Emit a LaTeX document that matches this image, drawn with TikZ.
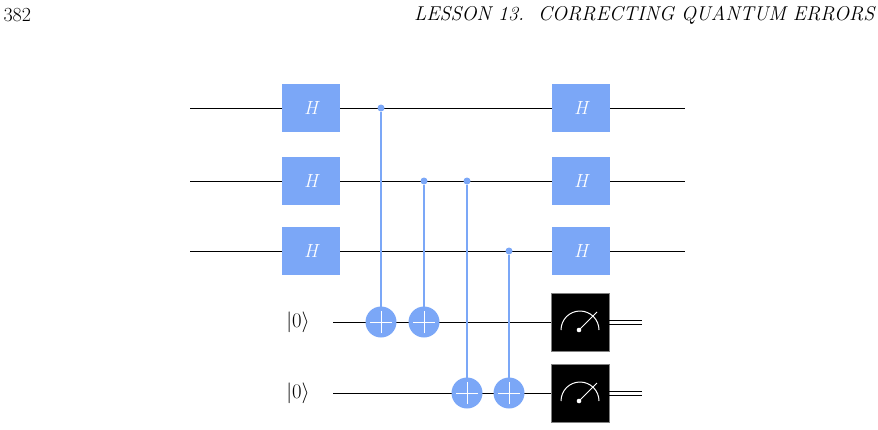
\documentclass[tikz,border=0pt]{standalone}
\usetikzlibrary{positioning}
\definecolor{qblue}{HTML}{7BA7F7}
\begin{document}
\begin{tikzpicture}[x=1pt,y=-1pt]

% size of each gate
\def\sz{58pt}
% gate style definition
\tikzstyle{hgate} = [
	draw=none, fill=qblue, rectangle, text=white,
	minimum height=48pt, minimum width=\sz, font=\fontsize{19}{22}\selectfont\itshape ];
\tikzstyle{meas} = [draw=gray, fill=black, rectangle,
	minimum height=\sz, minimum width=\sz ];
\tikzstyle{ctrl} = [circle, fill=qblue, inner sep=0pt, minimum size=7pt];
\tikzstyle{targ} = [circle, fill=qblue, inner sep=0pt, minimum size=31pt];
\tikzstyle{wire} = [black, line width=0.9pt];
\tikzstyle{cnot} = [qblue, line width=2pt];

\useasboundingbox (0,0) rectangle (878,429);
\node[anchor=west,font=\fontsize{20}{24}\selectfont] (pg) at (0,15) {382};
\node[anchor=east,font=\fontsize{20}{24}\selectfont\itshape] (hd) at (878,15) {LESSON 13.\ \ CORRECTING QUANTUM ERRORS};

% wires
\foreach \i/\y in {1/108,2/181,3/251} {
  \coordinate (l\i) at (190,\y);
  \coordinate (r\i) at (685,\y);
  \draw[wire] (l\i) -- (r\i);
}
\node[font=\fontsize{20}{24}\selectfont] (k4) at (298,322) {$|0\rangle$};
\node[font=\fontsize{20}{24}\selectfont] (k5) at (298,393) {$|0\rangle$};
\coordinate (r4) at (552,322);
\coordinate (r5) at (552,393);
\draw[wire] (333,322) -- (r4);
\draw[wire] (333,393) -- (r5);

% hadamards
\foreach \i/\y in {1/108,2/181,3/251} {
  \node[hgate] (hl\i) at (311,\y) {H};
  \node[hgate] (hr\i) at (581,\y) {H};
}

% measurements
\foreach \i/\y in {4/322,5/393} {
  \node[meas] (m\i) at (580,\y) {};
  \draw[white,line width=1pt] ([xshift=-19pt,yshift=-8pt]m\i.center) arc (180:0:19pt);
  \draw[white,line width=1pt] ([xshift=-1pt,yshift=-8pt]m\i.center) -- ([xshift=17pt,yshift=10pt]m\i.center);
  \fill[white] ([xshift=-1pt,yshift=-8pt]m\i.center) circle (2.3pt);
  \coordinate (o\i) at (642,\y);
  \draw[wire,line width=0.7pt] ([yshift=2pt]m\i.east) -- ([yshift=2pt]o\i);
  \draw[wire,line width=0.7pt] ([yshift=-2pt]m\i.east) -- ([yshift=-2pt]o\i);
}

% cnots
\foreach \n/\x/\c/\t in {a/381/108/322,b/424/181/322,c/467/181/393,d/509/251/393} {
  \node[ctrl] (c\n) at (\x,\c) {};
  \node[targ] (t\n) at (\x,\t) {};
  \draw[cnot] (c\n) -- (t\n.center);
  \draw[white,line width=0.8pt] ([yshift=-11pt]t\n.center) -- ([yshift=11pt]t\n.center);
  \draw[white,line width=0.8pt] ([xshift=-11pt]t\n.center) -- ([xshift=11pt]t\n.center);
}

\end{tikzpicture}
\end{document}
